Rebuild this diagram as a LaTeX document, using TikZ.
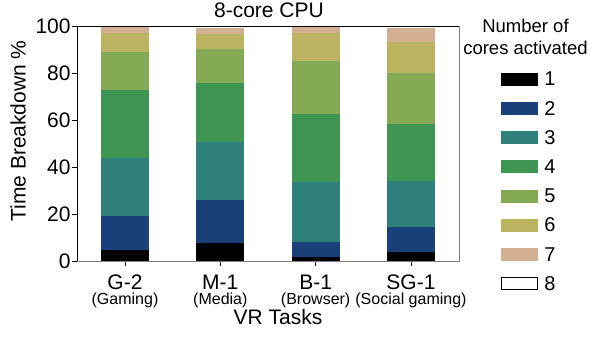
\documentclass[tikz,border=0pt]{standalone}
\usepackage{fontspec}
\setmainfont{Liberation Sans}
\usetikzlibrary{positioning}
\definecolor{core1}{HTML}{000000}
\definecolor{core2}{HTML}{1A407A}
\definecolor{core3}{HTML}{2F7F7B}
\definecolor{core4}{HTML}{3F9652}
\definecolor{core5}{HTML}{84AA56}
\definecolor{core6}{HTML}{BBB360}
\definecolor{core7}{HTML}{D4B092}
\definecolor{core8}{HTML}{FFFFFF}
\tikzset{
  big/.style={font=\fontsize{21}{25}\selectfont, inner sep=0pt},
  small/.style={font=\fontsize{16}{19}\selectfont, inner sep=0pt},
  ticklabel/.style={big, anchor=east},
  swatch/.style={fill=#1, minimum width=36pt, minimum height=12pt, inner sep=0pt},
  keylabel/.style={font=\fontsize{20}{24}\selectfont, inner sep=0pt, anchor=west},
  keytitle/.style={font=\fontsize{18.5}{22}\selectfont, inner sep=0pt}
}
\begin{document}
\begin{tikzpicture}[x=1pt,y=1pt]
  \useasboundingbox (0,0) rectangle (590,339);
  \node[big] (title) at (269,328.5) {8-core CPU};
  \node[big, rotate=90] (ylabel) at (18,208) {Time Breakdown \%};
  % stacked bars
  \begin{scope}[shift={(77,78)}, y=2.347pt]
    \foreach \i/\vals in {0/{4.7,19.2,43.9,72.7,88.9,97.2,100},
                          1/{7.7,25.9,50.7,75.9,90.2,96.6,99.1},
                          2/{1.6,8.1,33.5,62.5,85.1,97.2,100},
                          3/{3.8,14.3,33.9,58.2,80.1,93.3,99.1}} {
      \pgfmathsetmacro\cx{48+95.33*\i}
      \foreach \top [count=\k, remember=\top as \bot (initially 0)] in \vals
        \fill[core\k] (\cx-24,\bot) rectangle (\cx+24,\top);
      \draw (\cx,0) -- ++(0pt,-5pt);
    }
    \draw[gray, thick] (0,0) -- (382,0) -- (382,100);
    \draw[thick] (382,100) -- (0,100) -- (0,0);
    \foreach \v in {0,20,...,100}
      \draw[thick] (0,\v) -- ++(-5pt,0pt) node[ticklabel, xshift=-1pt] (tick\v) {\v};
  \end{scope}
  % task names
  \foreach \i/\task/\kind in {0/G-2/Gaming, 1/M-1/Media, 2/B-1/Browser, 3/SG-1/Social gaming} {
    \pgfmathsetmacro\cx{125+95.33*\i}
    \node[big] (task\i) at (\cx,57) {\task};
    \node[small] (kind\i) at (\cx,38.5) {(\kind)};
  }
  \node[big] (xlabel) at (278,21.5) {VR Tasks};
  % legend
  \node[keytitle] (keytitle) at (525.5,313) {Number of};
  \node[keytitle] (keytitle2) at (525.5,291.5) {cores activated};
  \foreach \k/\edge in {1/core1,2/core2,3/core3,4/core4,5/core5,6/core6,7/core7,8/black} {
    \node[swatch=core\k, draw=\edge] (key\k) at (519,289.2-29.2*\k) {};
    \node[keylabel, right=7pt of key\k] (num\k) {\k};
  }
\end{tikzpicture}
\end{document}
